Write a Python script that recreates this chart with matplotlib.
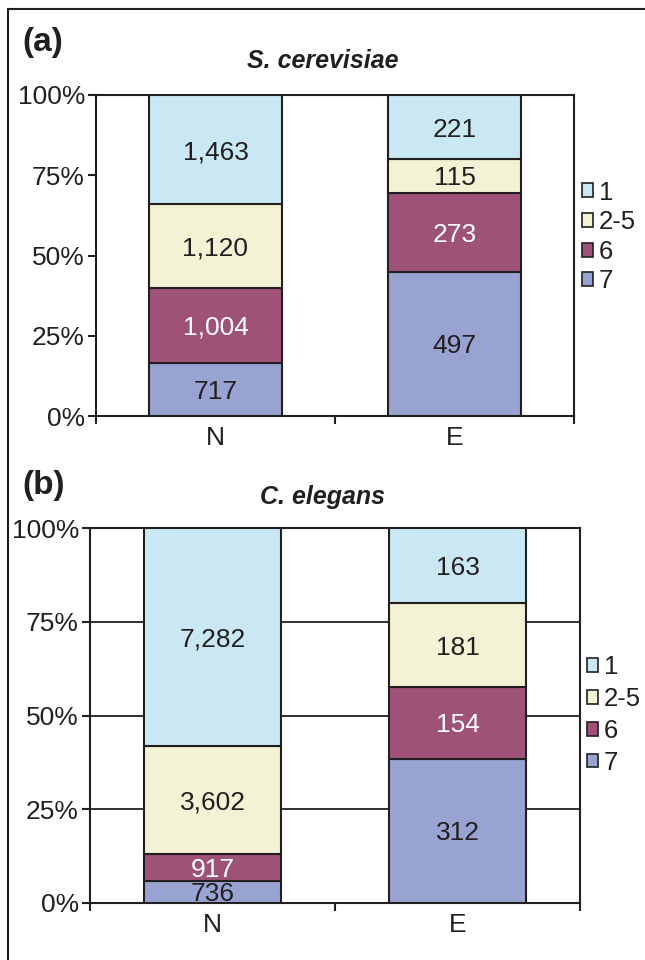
import matplotlib
matplotlib.use("Agg")
import matplotlib.pyplot as plt
from matplotlib.patches import Patch
from matplotlib.lines import Line2D
import numpy as np

plt.rcParams['font.family'] = ['Liberation Sans', 'DejaVu Sans']

groups = ['N', 'E']
classes = ['7', '6', '2-5', '1']          # bottom to top
colors = ['#98a3d2', '#9e5278', '#f3f2d4', '#c9e8f3']
text_colors = ['#231f20', 'white', '#231f20', '#231f20']

# counts per class, bottom to top
yeast_N = [717, 1004, 1120, 1463]
yeast_E = [497, 273, 115, 221]
worm_N = [736, 917, 3602, 7282]
worm_E = [312, 154, 181, 163]

yticks = [0, 25, 50, 75, 100]
ytick_labels = ['0%', '25%', '50%', '75%', '100%']

ink = '#231f20'
fs = 19

fig = plt.figure(figsize=(6.45, 9.6), dpi=100)

# frame lines around the figure (left and top)
fig.add_artist(Line2D([8/645, 8/645], [0, 1 - 9/960], color=ink, lw=1.5))
fig.add_artist(Line2D([8/645, 1], [1 - 9/960, 1 - 9/960], color=ink, lw=1.5))


def panel(rect, data, title, letter, title_y, letter_y, grid, leg_anchor, leg_spacing):
    ax = fig.add_axes(rect)
    pct = np.array(data, dtype=float)
    pct = pct / pct.sum(axis=1, keepdims=True) * 100
    x = np.arange(len(groups))
    bottom = np.zeros(len(groups))
    for k in range(len(classes)):
        ax.bar(x, pct[:, k], 0.56, bottom=bottom, color=colors[k],
               edgecolor=ink, linewidth=1.5, zorder=3)
        for i in range(len(groups)):
            ax.text(x[i], bottom[i] + pct[i, k] / 2, f"{data[i][k]:,}",
                    ha='center', va='center_baseline', fontsize=fs,
                    color=text_colors[k], zorder=4)
        bottom += pct[:, k]

    ax.set_xlim(-0.5, 1.5)
    ax.set_ylim(0, 100)
    ax.set_yticks(yticks)
    ax.set_yticklabels(ytick_labels)
    ax.set_xticks(x)
    ax.set_xticklabels(groups)
    ax.set_xticks([-0.5, 0.5, 1.5], minor=True)
    ax.tick_params(axis='x', which='major', length=0, pad=7, labelsize=fs, colors=ink)
    ax.tick_params(axis='x', which='minor', length=6, width=1.5, color=ink)
    ax.tick_params(axis='y', length=6, width=1.5, pad=2, labelsize=fs, colors=ink)
    for s in ax.spines.values():
        s.set_color(ink)
        s.set_linewidth(1.5)
    if grid:
        ax.yaxis.grid(True, color=ink, linewidth=1.3, zorder=0)
        ax.set_axisbelow(True)

    handles = [Patch(facecolor=colors[k], edgecolor=ink, linewidth=1.2, label=classes[k])
               for k in range(len(classes) - 1, -1, -1)]
    fig.legend(handles=handles, loc='center left', bbox_to_anchor=leg_anchor,
               frameon=False, fontsize=18.5, handlelength=0.45, handleheight=0.45,
               handletextpad=0.2, labelspacing=leg_spacing, borderpad=0,
               labelcolor=ink)

    fig.text(323/645, title_y, title, ha='center', va='center', fontsize=18,
             fontweight='bold', fontstyle='italic', color=ink)
    fig.text(22/645, letter_y, letter, ha='left', va='center', fontsize=24,
             fontweight='bold', color=ink)
    return ax


panel([96/645, 1 - 416/960, 478/645, 321/960], [yeast_N, yeast_E],
      'S. cerevisiae', '(a)', 1 - 61/960, 1 - 43/960, False,
      (569/645, 1 - 237/960), 0.22)
panel([90/645, 1 - 903/960, 490/645, 375/960], [worm_N, worm_E],
      'C. elegans', '(b)', 1 - 497/960, 1 - 485/960, True,
      (574/645, 1 - 715/960), 0.3)

fig.savefig('out.png', dpi=100)
